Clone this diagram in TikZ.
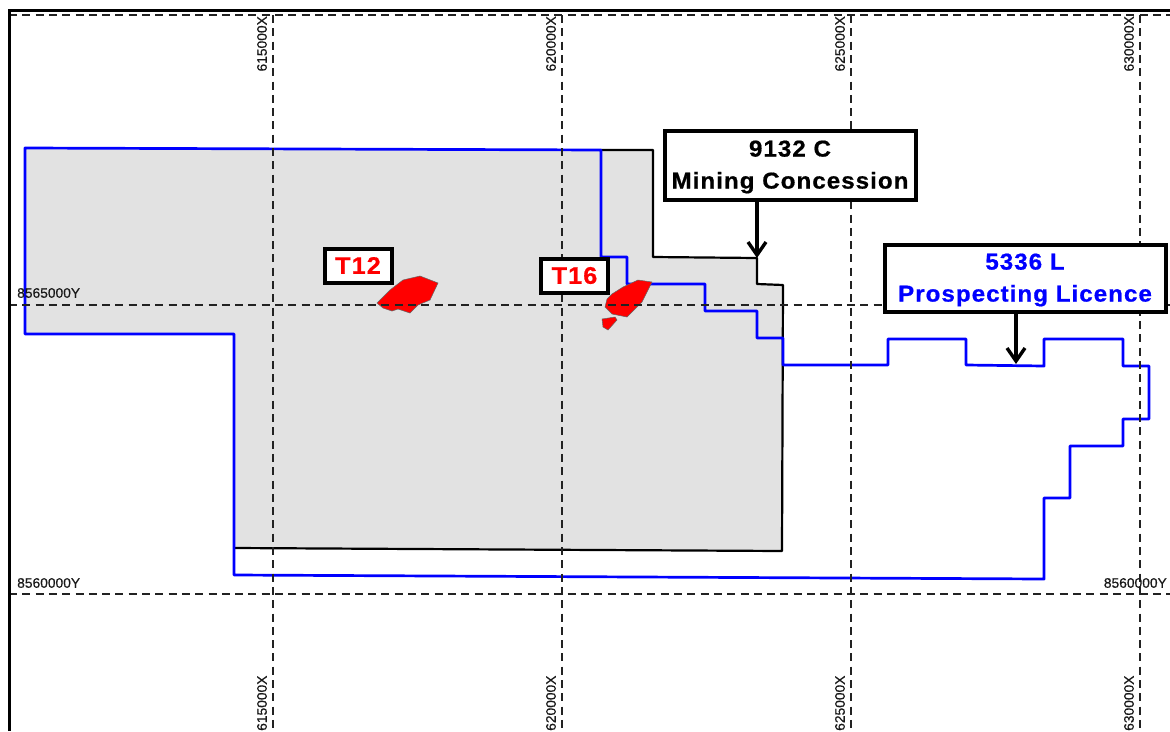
\documentclass[tikz,border=0pt]{standalone}
\usepackage{fontspec}
\setmainfont{Liberation Sans}
\newfontfamily\boxfont[FakeStretch=1.05,LetterSpace=4.5,FakeBold=0.7]{Liberation Sans}
\newfontfamily\gridfont[FakeBold=0.5]{Liberation Sans}
\usepackage{tikz}
\usetikzlibrary{arrows.meta,positioning}
\definecolor{concession}{HTML}{E2E2E2}
\definecolor{gridline}{HTML}{222222}

\begin{document}
\begin{tikzpicture}
[
  x=1pt,
  y=-1pt,
  gridl/.style={draw=gridline, line width=1.7pt, dash pattern=on 8pt off 5.3pt},
  gridlabel/.style={font=\gridfont\fontsize{13.8}{14}\selectfont, text=black!90, inner sep=0pt},
  callout/.style={draw=black, fill=white, line width=4pt, inner sep=0pt, align=center,
    font=\boxfont\bfseries\fontsize{23}{32}\selectfont},
  target/.style={callout, text=red, minimum width=67pt, minimum height=34pt,
    font=\boxfont\bfseries\fontsize{24}{24}\selectfont},
  ore/.style={fill=red, draw=black!60, line width=0.5pt},
  licence/.style={draw=blue, line width=2.7pt, line join=round},
  pointer/.style={->, >={Straight Barb[length=13pt,width=18pt]}, line width=3.4pt}
]
 \useasboundingbox (0,0) rectangle (1170,731);

 % concession area
 \fill[concession] (25,148) -- (653,150) -- (653,257) -- (757,258) -- (757,284) -- (783,285)
   -- (782,551) -- (234,548) -- (234,334) -- (25,334) -- cycle;

 % boundaries
 \draw[line width=2.2pt, line join=round] (601,150) -- (653,150) -- (653,257) -- (757,258)
   -- (757,284) -- (783,285) -- (782,551) -- (234,548);
 \draw[licence] (25,148) -- (601,150) -- (601,257) -- (627,257) -- (627,284) -- (705,284)
   -- (705,311) -- (757,311) -- (757,338) -- (783,338) -- (783,365) -- (888,365) -- (888,339)
   -- (966,339) -- (966,365) -- (1044,366) -- (1044,339) -- (1123,339) -- (1123,366)
   -- (1149,366) -- (1149,419) -- (1123,419) -- (1123,446) -- (1070,446) -- (1070,498)
   -- (1044,498) -- (1044,579) -- (234,575) -- (234,334) -- (25,334) -- cycle;

 % ore bodies
 \draw[ore] (377,303) -- (390,290) -- (403,280) -- (420,276) -- (438,283) -- (430,300)
   -- (418,305) -- (410,313) -- (398,309) -- (392,311) -- (383,308) -- cycle;
 \draw[ore] (605,307) -- (607,299) -- (612,294) -- (623,287) -- (638,280) -- (652,282) -- (642,302)
   -- (627,317) -- (612,314) -- cycle;
 \draw[ore] (602,319) -- (615,317) -- (617,320) -- (608,330) -- (603,327) -- cycle;

 % grid
 \draw[gridl] (9,15) -- (1170,15);
 \draw[gridl] (9,305) -- (1170,305);
 \draw[gridl] (9,594) -- (1170,594);
 \draw[gridl] (273,15) -- (273,731);
 \draw[gridl] (562,15) -- (562,731);
 \draw[gridl] (851,15) -- (851,731);
 \draw[gridl] (1140,15) -- (1140,731);

 % frame
 \draw[line width=3pt] (9,731) -- (9,10) -- (1170,10);

 % grid labels
 \node[gridlabel,rotate=90,anchor=east] (x615top) at (262,16) {615000X};
 \node[gridlabel,rotate=90,anchor=east] (x620top) at (551,16) {620000X};
 \node[gridlabel,rotate=90,anchor=east] (x625top) at (840,16) {625000X};
 \node[gridlabel,rotate=90,anchor=east] (x630top) at (1129,16) {630000X};
 \node[gridlabel,rotate=90,anchor=west] (x615bot) at (262,731) {615000X};
 \node[gridlabel,rotate=90,anchor=west] (x620bot) at (551,731) {620000X};
 \node[gridlabel,rotate=90,anchor=west] (x625bot) at (840,731) {625000X};
 \node[gridlabel,rotate=90,anchor=west] (x630bot) at (1129,731) {630000X};
 \node[gridlabel,anchor=west] (y8565) at (17,293) {8565000Y};
 \node[gridlabel,anchor=west] (y8560) at (17,583) {8560000Y};
 \node[gridlabel,anchor=east] (y8560r) at (1167,583) {8560000Y};

 % callouts
 \node[target] (t12) at (358,265.5) {T12};
 \node[target] (t16) at (574.5,275.5) {T16};
 \node[callout,minimum width=251pt,minimum height=69pt] (mc) at (790,165) {\rule{0pt}{20pt}9132 C\\Mining Concession};
 \node[callout,text=blue,minimum width=281pt,minimum height=67pt] (pl) at (1025,278) {\rule{0pt}{20pt}5336 L\\Prospecting Licence};

 \coordinate (mctip) at (757,258);
 \coordinate (pltip) at (1016,364);
 \draw[pointer] (mc.south -| mctip) -- (mctip);
 \draw[pointer] (pl.south -| pltip) -- (pltip);
\end{tikzpicture}
\end{document}
